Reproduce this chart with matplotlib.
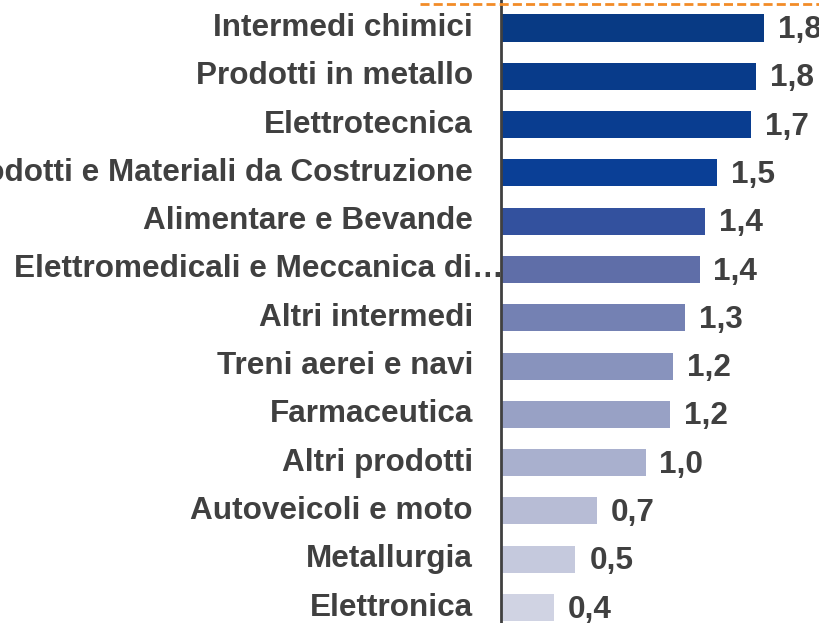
import matplotlib.pyplot as plt
from matplotlib.lines import Line2D
from matplotlib.transforms import blended_transform_factory, ScaledTranslation

plt.rcParams['font.family'] = ['Liberation Sans', 'DejaVu Sans']

# Settori e valori (dal grafico)
categories = ['Intermedi chimici', 'Prodotti in metallo', 'Elettrotecnica',
              'Prodotti e Materiali da Costruzione', 'Alimentare e Bevande',
              'Elettromedicali e Meccanica di…', 'Altri intermedi',
              'Treni aerei e navi', 'Farmaceutica', 'Altri prodotti',
              'Autoveicoli e moto', 'Metallurgia', 'Elettronica']
values = [1.80, 1.75, 1.71, 1.48, 1.40, 1.36, 1.26, 1.18, 1.16, 0.99, 0.66, 0.51, 0.36]
colors = ['#083a84', '#083b8a', '#093d90', '#0a3f96', '#33519e', '#5f6ea8',
          '#7481b3', '#8893bd', '#98a1c5', '#a9b0ce', '#b7bcd5', '#c5c9dd', '#d0d3e3']

W, H = 820, 623
fig = plt.figure(figsize=(W / 100, H / 100), dpi=100)
ax = fig.add_axes([501 / W, 0, 1 - 501 / W, 1])

y = list(range(len(categories)))
ax.barh(y, values, height=0.56, color=colors, left=0)
ax.set_ylim(12.32, -0.58)
ax.set_xlim(0, (W - 501) / 146)

for s in ['top', 'right', 'bottom']:
    ax.spines[s].set_visible(False)
ax.spines['left'].set_color('#404040')
ax.spines['left'].set_linewidth(2)
ax.set_xticks([])
ax.set_yticks([])

txt = '#404040'
fs = 22.7
for yi, v in zip(y, values):
    ax.annotate(f'{v:.1f}'.replace('.', ','), (v, yi), xytext=(10, -1.5),
                textcoords='offset points', va='center', ha='left',
                fontsize=fs, fontweight='bold', color=txt, annotation_clip=False)

trans = blended_transform_factory(ax.transAxes, ax.transData)
for yi, name in zip(y, categories):
    dx = 3 if name.endswith('…') else -28
    ax.text(0, yi, name, ha='right', va='center', fontsize=fs,
            fontweight='bold', color=txt,
            transform=trans + ScaledTranslation(dx / 100, 0, fig.dpi_scale_trans))

fig.add_artist(Line2D([420 / W, 1], [1 - 3.5 / H, 1 - 3.5 / H], transform=fig.transFigure,
                      color='#f28c28', linestyle=(0, (3.25, 1.5)), linewidth=2))

fig.savefig('out.png', dpi=100)
